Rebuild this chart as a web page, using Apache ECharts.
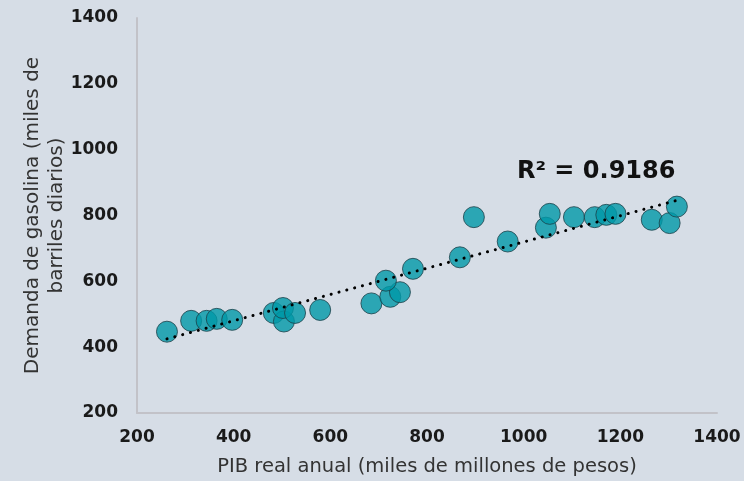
<!DOCTYPE html>
<html>
<head>
<meta charset="utf-8">
<script src="https://cdn.jsdelivr.net/npm/echarts@6/dist/echarts.min.js"></script>
<style>
  html, body { margin: 0; padding: 0; background: #d6dde6; }
  #chart { width: 744px; height: 481px; }
</style>
</head>
<body>
<div id="chart"></div>
<script>
// PIB real anual (x) vs demanda de gasolina (y)
const pib = [262, 312, 344, 365, 397, 483, 504, 502, 527, 579,
             685, 724, 744, 715, 771, 868, 897, 967, 1046, 1054,
             1104, 1147, 1171, 1190, 1265, 1302, 1317]
const demanda = [447, 480, 480, 486, 483, 504, 478, 519, 504, 513,
                 533, 553, 567, 602, 638, 673, 795, 721, 763, 805,
                 795, 795, 802, 805, 787, 777, 827]
const xTicks = [200, 400, 600, 800, 1000, 1200, 1400]
const yTicks = [200, 400, 600, 800, 1000, 1200, 1400]
const r2Label = 'R² = 0.9186'

const points = pib.map((x, i) => [x, demanda[i]])

// linear trend (least squares)
const n = pib.length
const mx = pib.reduce((a, b) => a + b, 0) / n
const my = demanda.reduce((a, b) => a + b, 0) / n
let sxy = 0, sxx = 0
for (let i = 0; i < n; i++) {
  sxy += (pib[i] - mx) * (demanda[i] - my)
  sxx += (pib[i] - mx) * (pib[i] - mx)
}
const slope = sxy / sxx
const icpt = my - slope * mx
const xmin = Math.min(...pib), xmax = Math.max(...pib)
const trend = [[xmin, icpt + slope * xmin], [xmax, icpt + slope * xmax]]

const font = 'DejaVu Sans, Verdana, sans-serif'
const chart = echarts.init(document.getElementById('chart'))
chart.setOption({
  backgroundColor: '#d6dde6',
  animation: false,
  grid: { left: 137, right: 27, top: 18, bottom: 68, outerBoundsMode: 'none', containLabel: false },
  xAxis: {
    type: 'value',
    min: xTicks[0], max: xTicks[xTicks.length - 1], interval: 200,
    name: 'PIB real anual (miles de millones de pesos)',
    nameLocation: 'middle', nameGap: 44,
    nameTextStyle: { fontFamily: font, fontSize: 19.5, color: '#333' },
    axisLine: { show: true, lineStyle: { color: '#c2c2c8', width: 2 } },
    axisTick: { show: false },
    splitLine: { show: false },
    axisLabel: { fontFamily: font, fontWeight: 'bold', fontSize: 17, color: '#1a1a1a', margin: 16,
                 formatter: v => String(v) }
  },
  yAxis: {
    type: 'value',
    min: yTicks[0], max: yTicks[yTicks.length - 1], interval: 200,
    name: 'Demanda de gasolina (miles de\nbarriles diarios)',
    nameLocation: 'middle', nameGap: 68, nameMoveOverlap: false,
    nameTextStyle: { fontFamily: font, fontSize: 20, color: '#333', lineHeight: 24 },
    axisLine: { show: true, lineStyle: { color: '#c2c2c8', width: 2 } },
    axisTick: { show: false },
    splitLine: { show: false },
    axisLabel: { fontFamily: font, fontWeight: 'bold', fontSize: 17, color: '#1a1a1a', margin: 19,
                 formatter: v => String(v) }
  },
  series: [
    {
      type: 'scatter',
      data: points,
      symbolSize: 21,
      itemStyle: { color: '#0099a8', borderColor: '#1a4048', borderWidth: 1 },
      z: 2
    },
    {
      type: 'line',
      data: trend,
      symbol: 'none',
      lineStyle: { color: '#000', width: 3, type: [0.1, 8], cap: 'round' },
      z: 3
    }
  ],
  graphic: [{
    type: 'text',
    left: 517, top: 160,
    style: { text: r2Label, fontFamily: font, fontWeight: 'bold', fontSize: 24, fill: '#111' }
  }]
})
</script>
</body>
</html>
